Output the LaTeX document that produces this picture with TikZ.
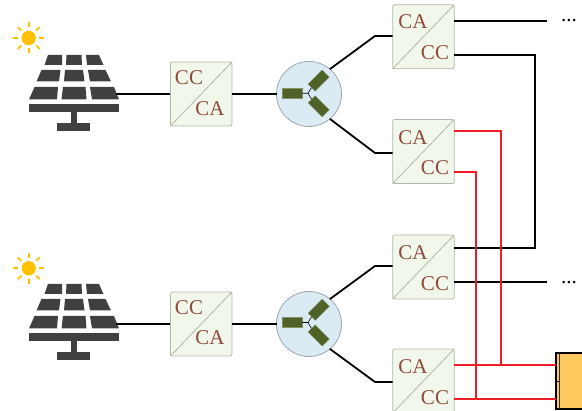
\documentclass[tikz,border=0pt]{standalone}
\usepackage{fontspec}
\setmainfont{Liberation Serif}
\definecolor{conv}{HTML}{F2F7EC}
\definecolor{convline}{HTML}{B4B6A8}
\definecolor{convtext}{HTML}{8F4B3B}
\definecolor{split}{HTML}{DAEBF3}
\definecolor{splitline}{HTML}{9FA8AE}
\definecolor{olive}{HTML}{4F6228}
\definecolor{panel}{HTML}{404040}
\definecolor{sun}{HTML}{FFC000}
\definecolor{bat}{HTML}{FFC95F}
\definecolor{wred}{HTML}{EE1C25}
\tikzset{
  convbox/.style={draw=convline,fill=conv,line width=.8pt,rounded corners=2pt,minimum width=61.5pt,minimum height=64pt,inner sep=0pt,outer sep=0pt},
  convlabel/.style={text=convtext,font=\fontsize{21}{21}\selectfont,inner sep=0pt},
  diag/.style={draw=convline,line width=.8pt},
  splitter/.style={circle,draw=splitline,fill=split,line width=.8pt,minimum size=65pt,inner sep=0pt,outer sep=0pt},
  wire/.style={draw=black,line width=1.8pt},
  redwire/.style={draw=wred,line width=1.8pt},
  cell/.style={fill=panel},
  winding/.style={fill=olive,draw=olive!70!white,line width=.3pt,minimum width=20pt,minimum height=10pt,inner sep=0pt},
  dotslabel/.style={font=\fontsize{21}{21}\selectfont,inner sep=0pt},
}
\newcommand{\solarpanel}[2]{%
 \begin{scope}[yshift=-#1pt]
  \fill[cell] (48,55)--(62,55)--(62,65)--(44.5,65)--cycle;
  \fill[cell] (66.5,55)--(81.5,55)--(82,65)--(66,65)--cycle;
  \fill[cell] (86,55)--(99,55)--(103.5,65)--(87,65)--cycle;
  \fill[cell] (41.5,70)--(60.5,70)--(59,81.5)--(36.5,81.5)--cycle;
  \fill[cell] (65,70)--(83,70)--(84.5,81.5)--(64,81.5)--cycle;
  \fill[cell] (88,70)--(105.5,70)--(111,81.5)--(90,81.5)--cycle;
  \fill[cell] (34.5,87)--(58,87)--(57,99.5)--(29,99.5)--cycle;
  \fill[cell] (63,87)--(85.5,87)--(86.5,99.5)--(61.5,99.5)--cycle;
  \fill[cell] (90,87)--(114,87)--(119,99.5)--(92,99.5)--cycle;
  \fill[cell] (28.7,104.5) rectangle (119.3,112);
  \fill[cell] (70.7,112) rectangle (77.3,124);
  \fill[cell] (57.3,123.5) rectangle (90.3,131);
 \end{scope}
 \begin{scope}[shift={(28.7,#2)}]
  \fill[sun] (0,0) circle (7.2pt);
  \foreach \a in {0,45,...,315}
    \draw[sun,line width=1.7pt] (\a:10.5pt) -- (\a:15.5pt);
 \end{scope}}
\newcommand{\windings}[2]{%
 \node[winding] (#1a) at (292.3,#2) {};
 \node[winding,rotate=45] (#1b) at (318.7,#2-12.7) {};
 \node[winding,rotate=-45] (#1c) at (318.7,#2+13) {};
 \coordinate (#1n) at (308,#2);
 \draw[black,line width=.6pt] (#1a.east) -- (#1n) -- (#1b.west);
 \draw[black,line width=.6pt] (#1n) -- (#1c.west);}
\begin{document}
\begin{tikzpicture}[x=1pt,y=-1pt]
\useasboundingbox (0,0) rectangle (582,411);
\clip (0,0) rectangle (582,411);
\coordinate (p1) at (116,94);
\coordinate (p2) at (116,324);
\solarpanel{0}{38}
\solarpanel{229}{268.3}
% converters
\node[convbox] (a1) at (201.2,94) {};
\node[convbox] (a2) at (201.2,324) {};
\node[convbox] (t1) at (423.4,36.8) {};
\node[convbox] (t2) at (423.4,151.6) {};
\node[convbox] (t3) at (423.4,267) {};
\node[convbox] (t4) at (423.4,381) {};
\foreach \n in {a1,a2,t1,t2,t3,t4}
  \draw[diag] (\n.south west) -- (\n.north east);
\node[convlabel] (a1x) at (189,77.5) {CC};
\node[convlabel] (a1y) at (210,108.5) {CA};
\node[convlabel] (a2x) at (189,307.5) {CC};
\node[convlabel] (a2y) at (210,338) {CA};
\node[convlabel] (t1x) at (413,22) {CA};
\node[convlabel] (t1y) at (435,53) {CC};
\node[convlabel] (t2x) at (413,137.5) {CA};
\node[convlabel] (t2y) at (435,167.5) {CC};
\node[convlabel] (t3x) at (413,253) {CA};
\node[convlabel] (t3y) at (435,283.5) {CC};
\node[convlabel] (t4x) at (413,366.5) {CA};
\node[convlabel] (t4y) at (435,397.5) {CC};
% splitters
\node[splitter] (s1) at (309,94) {};
\node[splitter] (s2) at (309,324) {};
\windings{w1}{93.3}
\windings{w2}{322.5}
% battery
\node[draw=black,fill=bat,line width=1.2pt,minimum width=50pt,minimum height=56pt,inner sep=0pt,outer sep=0pt] (bat) at (581,381) {};
\draw[black!80!bat,line width=1.2pt] (559.5,353) -- (559.5,409);
\coordinate (bn) at (559.5,381);
% wires
\draw[wire] (p1) -- (p1 -| a1.west);
\draw[wire] (a1.east |- s1.west) -- (s1.west);
\draw[wire] (p2) -- (p2 -| a2.west);
\draw[wire] (a2.east |- s2.west) -- (s2.west);
\coordinate (b1) at (375,36);
\coordinate (b2) at (375,153);
\coordinate (b3) at (375,266);
\coordinate (b4) at (375,382);
\draw[wire] (s1.50) -- (b1) -- (b1 -| t1.west);
\draw[wire] (s1.-50) -- (b2) -- (b2 -| t2.west);
\draw[wire] (s2.50) -- (b3) -- (b3 -| t3.west);
\draw[wire] (s2.-50) -- (b4) -- (b4 -| t4.west);
% outputs
\coordinate (o1) at (547,21);
\coordinate (o2) at (547,282);
\draw[wire] (t1.east |- o1) -- (o1);
\draw[wire] (t3.east |- o2) -- (o2);
\draw[wire] (t1.east |- 0,55) -- (535,55) -- (535,248) -- (t3.east |- 0,248);
\draw[redwire] (t2.east |- 0,131) -- (501,131) -- (501,365);
\draw[redwire] (t2.east |- 0,172) -- (476,172) -- (476,399);
\draw[redwire] (t4.east |- 0,365) -- (bat.west |- 0,365);
\draw[redwire] (t4.east |- 0,399) -- (bat.west |- 0,399);
\draw[black,line width=.8pt] (bat.west) -- (bn);
% dots
\node[dotslabel,anchor=base] (d1) at (569,22) {...};
\node[dotslabel,anchor=base] (d2) at (569,283.5) {...};
\end{tikzpicture}
\end{document}
